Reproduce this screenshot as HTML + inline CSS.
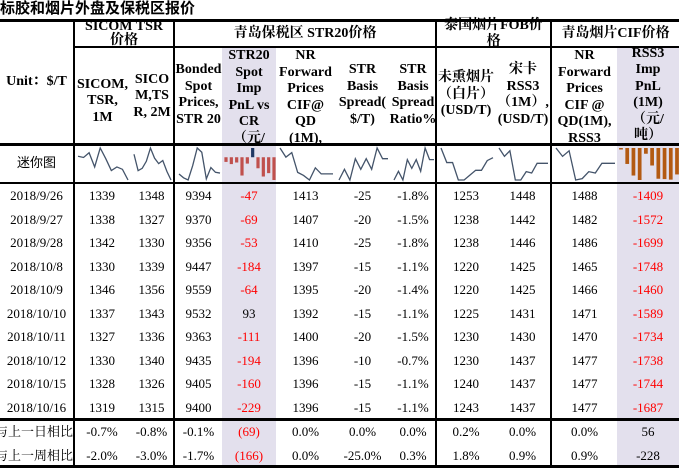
<!DOCTYPE html>
<html><head><meta charset="utf-8"><style>
body{margin:0;width:679px;height:468px;background:#fff;position:relative;overflow:hidden;font-family:"Liberation Serif","Noto Serif CJK SC",serif;color:#000}
.a{position:absolute}
.t{position:absolute;text-align:center;font-size:13px;line-height:14px}
.h{font-weight:bold;font-size:14px;line-height:16.5px;display:flex;align-items:center;justify-content:center;text-align:center;box-sizing:border-box;padding:0 1px}
.ln{position:absolute;background:#000}
.shade{position:absolute;background:#e3e0ed}
</style></head><body>
<div class="a" style="left:0;top:0;font-weight:bold;font-size:15px;line-height:18px;font-family:'Liberation Sans','Noto Sans CJK SC',sans-serif">标胶和烟片外盘及保税区报价</div>
<div class="shade" style="left:222px;top:47px;width:54px;height:372px"></div>
<div class="shade" style="left:222px;top:421px;width:54px;height:45px"></div>
<div class="shade" style="left:617px;top:47px;width:62px;height:372px"></div>
<div class="shade" style="left:617px;top:421px;width:62px;height:45px"></div>

<div class="ln" style="left:0;top:19px;width:679px;height:3px"></div>
<div class="ln" style="left:74px;top:46px;width:605px;height:1.5px"></div>
<div class="ln" style="left:0;top:143px;width:679px;height:3px"></div>
<div class="ln" style="left:0;top:182px;width:679px;height:2px"></div>
<div class="ln" style="left:0;top:418px;width:679px;height:3px"></div>
<div class="ln" style="left:0;top:465px;width:679px;height:3px"></div>
<div class="ln" style="left:73px;top:19px;width:2px;height:449px"></div>
<div class="ln" style="left:173px;top:19px;width:2px;height:449px"></div>
<div class="ln" style="left:435px;top:19px;width:2px;height:449px"></div>
<div class="ln" style="left:550px;top:19px;width:2px;height:449px"></div>

<div class="a h" style="left:75px;top:20px;width:98px;height:26px;align-items:flex-start;line-height:14px;padding:0 8px;overflow:hidden">SICOM TSR 价格</div>
<div class="a h" style="left:175px;top:22px;width:260px;height:24px">青岛保税区 STR20价格</div>
<div class="a h" style="left:437px;top:22px;width:113px;height:24px">泰国烟片FOB价格</div>
<div class="a h" style="left:552px;top:22px;width:127px;height:24px">青岛烟片CIF价格</div>

<div class="a h" style="left:0;top:22px;width:73px;height:121px">Unit：$/T</div>
<div class="a h" style="left:75px;top:60px;width:55px;height:83px">SICOM, TSR, 1M</div>
<div class="a h" style="left:131px;top:55px;width:42px;height:83px">SICO M,TS R, 2M</div>
<div class="a h" style="left:175px;top:47px;width:47px;height:96px">Bonded Spot Prices, STR 20</div>
<div class="a h" style="left:222px;top:48px;width:54px;height:95px;align-items:flex-start;overflow:hidden;padding:0 4px">STR20 Spot Imp PnL vs CR（元/吨）</div>
<div class="a h" style="left:276px;top:48px;width:59px;height:95px;align-items:flex-start;overflow:hidden;padding:0 3px">NR Forward Prices CIF@ QD (1M),</div>
<div class="a h" style="left:335px;top:47px;width:55px;height:96px">STR Basis Spread( $/T)</div>
<div class="a h" style="left:390px;top:47px;width:46px;height:96px">STR Basis Spread Ratio%</div>
<div class="a h" style="left:437px;top:47px;width:58px;height:96px">未熏烟片（白片）(USD/T)</div>
<div class="a h" style="left:496px;top:47px;width:54px;height:96px">宋卡 RSS3（1M）,(USD/T)</div>
<div class="a h" style="left:552px;top:48px;width:65px;height:95px;align-items:flex-start;overflow:hidden">NR Forward Prices CIF @ QD(1M), RSS3</div>
<div class="a h" style="left:617px;top:47px;width:62px;height:96px;padding:0 6px">RSS3 Imp PnL (1M)（元/吨）</div>

<div class="t" style="left:0;top:156px;width:73px;font-size:13px;font-family:'Liberation Sans','Noto Sans CJK SC',sans-serif">迷你图</div>
<svg id="spark" class="a" style="left:0;top:0" width="679" height="468"></svg>
<div id="cells"></div>

<script>
const dates=["2018/9/26","2018/9/27","2018/9/28","2018/10/8","2018/10/9","2018/10/10","2018/10/11","2018/10/12","2018/10/15","2018/10/16"];
const sicom1m=[1339,1338,1342,1330,1346,1337,1327,1330,1328,1319];
const sicom2m=[1348,1327,1330,1339,1356,1343,1336,1340,1326,1315];
const bonded=[9394,9370,9356,9447,9559,9532,9363,9435,9405,9400];
const str20Pnl=[-47,-69,-53,-184,-64,93,-111,-194,-160,-229];
const nrForward=[1413,1407,1410,1397,1395,1392,1400,1396,1396,1396];
const basisSpread=[-25,-20,-25,-15,-20,-15,-20,-10,-15,-15];
const basisRatio=[-1.8,-1.5,-1.8,-1.1,-1.4,-1.1,-1.5,-0.7,-1.1,-1.1];
const unsmoked=[1253,1238,1238,1220,1220,1225,1230,1230,1240,1243];
const songkhla=[1448,1442,1446,1425,1425,1431,1430,1437,1437,1437];
const nrRss3=[1488,1482,1486,1465,1466,1471,1470,1477,1477,1477];
const rss3Pnl=[-1409,-1572,-1699,-1748,-1460,-1589,-1734,-1738,-1744,-1687];
const dayChange=["-0.7%","-0.8%","-0.1%","(69)","0.0%","0.0%","0.0%","0.2%","0.0%","0.0%","56"];
const weekChange=["-2.0%","-3.0%","-1.7%","(166)","0.0%","-25.0%","0.3%","1.8%","0.9%","0.9%","-228"];

const cols=[{x:74,w:56,d:sicom1m,n:"sicom-1m"},{x:130,w:43,d:sicom2m,n:"sicom-2m"},{x:175,w:47,d:bonded,n:"bonded-spot"},{x:222,w:54,d:str20Pnl,n:"str20-pnl",bar:1},{x:276,w:59,d:nrForward,n:"nr-forward"},{x:335,w:55,d:basisSpread,n:"basis-spread"},{x:390,w:46,d:basisRatio,n:"basis-ratio",pct:1},{x:437,w:58,d:unsmoked,n:"unsmoked"},{x:495,w:55,d:songkhla,n:"songkhla"},{x:552,w:65,d:nrRss3,n:"nr-rss3"},{x:617,w:62,d:rss3Pnl,n:"rss3-pnl",bar:2}];
const rowY=i=>184+i*23.5;
const cells=document.getElementById('cells');
function mk(txt,x,y,w,color,name){const e=document.createElement('div');e.className='t';e.style.left=x+'px';e.style.top=y+'px';e.style.width=w+'px';if(color)e.style.color=color;e.textContent=txt;


cells.appendChild(e);}
dates.forEach((d,i)=>mk(d,0,rowY(i)+5,73,null,'date-cell'));
mk("与上一日相比",-6,425,80,null,'day-change-label');
mk("与上一周相比",-6,449,80,null,'week-change-label');
cols.forEach((c,ci)=>{
 c.d.forEach((v,i)=>{const s=c.pct?v.toFixed(1)+'%':String(v);mk(s,c.x,rowY(i)+5,c.w,(c.bar&&v<0)?'#ff0000':null,c.n+'-cell');});
 const red=c.bar==1?'#ff0000':null;
 mk(dayChange[ci],c.x,425,c.w,red,c.n+'-day-change');
 mk(weekChange[ci],c.x,449,c.w,red,c.n+'-week-change');
});
const svg=document.getElementById('spark');const NS="http://www.w3.org/2000/svg";
const top0=148,bot0=180;
cols.forEach(c=>{
 const x0=c.x+4,x1=c.x+c.w-2,n=c.d.length,step=(x1-x0)/(n-1);
 const xs=i=>x0+i*step;
 if(!c.bar){
  const mn=Math.min(...c.d),mx=Math.max(...c.d);
  const ys=v=>bot0-(v-mn)/(mx-mn||1)*(bot0-top0);
  const p=document.createElementNS(NS,'polyline');
  p.setAttribute('points',c.d.map((v,i)=>xs(i)+','+ys(v)).join(' '));
  p.setAttribute('fill','none');p.setAttribute('stroke','#44546a');p.setAttribute('stroke-width','1.3');
  
  
  svg.appendChild(p);
 } else {
  let ys,zero;
  if(c.bar==1){const mn=Math.min(...c.d),mx=Math.max(...c.d);ys=v=>bot0-(v-mn)/(mx-mn)*(bot0-top0);zero=ys(0);}
  else{const mn=Math.min(...c.d),mx=Math.max(...c.d)+12;ys=v=>top0+(mx-v)/(mx-mn)*(bot0-top0);zero=top0;}
  const bw=step*0.6;
  c.d.forEach((v,i)=>{const r=document.createElementNS(NS,'rect');const y=ys(v);
   r.setAttribute('x',xs(i)-bw/2);r.setAttribute('y',Math.min(y,zero));r.setAttribute('width',bw);r.setAttribute('height',Math.max(1.5,Math.abs(y-zero)));
   r.setAttribute('fill',c.bar==1?(v<0?'#c0504d':'#1f3864'):'#b35a12');
   
   
   svg.appendChild(r);});
 }
});
</script>
</body></html>
